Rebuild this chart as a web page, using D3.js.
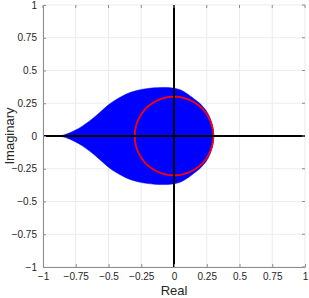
<!DOCTYPE html>
<html>
<head>
<meta charset="utf-8">
<script src="https://d3js.org/d3.v7.min.js"></script>
<style>
  body { margin: 0; background: #fff; }
  text { font-family: "Liberation Sans", Arial, sans-serif; fill: #262626; }
</style>
</head>
<body>
<svg id="chart" width="309" height="298"></svg>
<script>
// upper edge of the blue region (real, imag); region is symmetric about the real axis
var upperRe = [-0.87, -0.84, -0.8, -0.755, -0.7, -0.65, -0.6, -0.55, -0.5, -0.45, -0.4, -0.35, -0.3, -0.25, -0.2, -0.15, -0.1, -0.05, 0, 0.05, 0.1, 0.13, 0.16, 0.19, 0.22, 0.245, 0.265, 0.282, 0.294, 0.301, 0.303];
var upperIm = [0, 0.008, 0.022, 0.043, 0.075, 0.11, 0.15, 0.195, 0.238, 0.273, 0.302, 0.326, 0.343, 0.355, 0.363, 0.368, 0.371, 0.37, 0.365, 0.352, 0.323, 0.302, 0.279, 0.255, 0.226, 0.195, 0.16, 0.12, 0.08, 0.04, 0];
var circleR = 0.3;
var ticks = [-1, -0.75, -0.5, -0.25, 0, 0.25, 0.5, 0.75, 1];

var svg = d3.select("#chart");
var x = d3.scaleLinear().domain([-1, 1]).range([43, 305]);
var y = d3.scaleLinear().domain([-1, 1]).range([267, 5]);

// grid
svg.append("g").selectAll("line.gx").data(ticks).enter().append("line")
  .attr("x1", d => x(d)).attr("x2", d => x(d))
  .attr("y1", y(-1)).attr("y2", y(1))
  .style("stroke", "#ebebeb").style("stroke-width", 1);
svg.append("g").selectAll("line.gy").data(ticks).enter().append("line")
  .attr("y1", d => y(d)).attr("y2", d => y(d))
  .attr("x1", x(-1)).attr("x2", x(1))
  .style("stroke", "#ebebeb").style("stroke-width", 1);

// blue region: upper edge, then its mirror back along the bottom
var pts = [];
for (var i = 0; i < upperRe.length; i++) pts.push([upperRe[i], upperIm[i]]);
for (var j = upperRe.length - 2; j > 0; j--) pts.push([upperRe[j], -upperIm[j]]);
svg.append("path")
  .attr("d", d3.line().x(d => x(d[0])).y(d => y(d[1])).curve(d3.curveCatmullRomClosed.alpha(0.5))(pts))
  .style("fill", "#0000ff").style("stroke", "#0000ff").style("stroke-width", 0.5);

// red circle
var circ = d3.range(0, 361, 3).map(a => [circleR * Math.cos(a * Math.PI / 180), circleR * Math.sin(a * Math.PI / 180)]);
svg.append("path")
  .attr("d", d3.line().x(d => x(d[0])).y(d => y(d[1]))(circ))
  .style("fill", "none").style("stroke", "#ff0000").style("stroke-width", 1.8);

// real and imaginary axes
svg.append("line").attr("x1", x(-1)).attr("x2", x(1)).attr("y1", y(0)).attr("y2", y(0))
  .style("stroke", "#000").style("stroke-width", 2);
svg.append("line").attr("x1", x(0)).attr("x2", x(0)).attr("y1", y(-1)).attr("y2", y(1))
  .style("stroke", "#000").style("stroke-width", 2);

// frame axes
var xAxis = svg.append("g").attr("transform", "translate(0," + y(-1) + ")")
  .call(d3.axisBottom(x).tickValues(ticks).tickFormat(d3.format("")).tickSizeInner(-3).tickSizeOuter(0).tickPadding(6));
var yAxis = svg.append("g").attr("transform", "translate(" + x(-1) + ",0)")
  .call(d3.axisLeft(y).tickValues(ticks).tickFormat(d3.format("")).tickSizeInner(-3).tickSizeOuter(0).tickPadding(6));
[xAxis, yAxis].forEach(function(g) {
  g.select(".domain").style("stroke", "#8c8c8c");
  g.selectAll(".tick line").style("stroke", "#8c8c8c");
  g.selectAll(".tick text").style("font-size", "10px").style("fill", "#262626")
    .style("font-family", "'Liberation Sans', Arial, sans-serif");
});
// ticks on top and right
svg.append("g").selectAll("line").data(ticks).enter().append("line")
  .attr("x1", d => x(d)).attr("x2", d => x(d)).attr("y1", y(1)).attr("y2", y(1) + 3)
  .style("stroke", "#8c8c8c");
svg.append("g").selectAll("line").data(ticks).enter().append("line")
  .attr("y1", d => y(d)).attr("y2", d => y(d)).attr("x1", x(1)).attr("x2", x(1) - 3)
  .style("stroke", "#8c8c8c");

svg.append("text").attr("x", x(0)).attr("y", 295).attr("text-anchor", "middle")
  .style("font-size", "13px").text("Real");
svg.append("text").attr("transform", "translate(14," + y(0) + ") rotate(-90)")
  .attr("text-anchor", "middle").style("font-size", "13px").text("Imaginary");
</script>
</body>
</html>
